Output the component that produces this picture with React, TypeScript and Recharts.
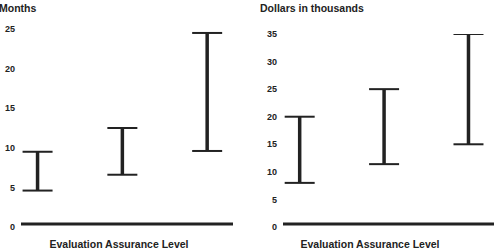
import React from 'react';
import { ComposedChart, Bar, XAxis, YAxis, ReferenceLine } from 'recharts';

// evaluation levels, plotted left to right
const levels = ['EAL 2', 'EAL 3', 'EAL 4'];
const levelPos = [1, 2, 3];

// schedule range (months)
const monthsLow = [4.6, 6.6, 9.6];
const monthsHigh = [9.5, 12.5, 24.5];
const monthTicks = [0, 5, 10, 15, 20, 25];

// cost range (dollars in thousands)
const costLow = [8, 11.4, 15];
const costHigh = [20, 25, 35];
const costTicks = [0, 5, 10, 15, 20, 25, 30, 35];

const INK = '#222';
const FONT = '"Liberation Sans", Arial, Helvetica, sans-serif';

const buildRows = (low: number[], high: number[]) =>
  levels.map((level, i) => ({ level, pos: levelPos[i], range: [low[i], high[i]] }));

const IBeam = (props: any) => {
  const { x, y, width, height } = props;
  const top = Math.min(y, y + height);
  const bottom = Math.max(y, y + height);
  const cx = x + width / 2;
  return (
    <g>
      <line x1={cx} x2={cx} y1={top} y2={bottom} stroke={INK} strokeWidth={3.5} />
      <line x1={x} x2={x + width} y1={top} y2={top} stroke={INK} strokeWidth={2} />
      <line x1={x} x2={x + width} y1={bottom} y2={bottom} stroke={INK} strokeWidth={2} />
    </g>
  );
};

const Baseline = (props: any) => {
  const { x1, x2, y1 } = props;
  return <line x1={x1} x2={x2} y1={y1 - 3} y2={y1 - 3} stroke={INK} strokeWidth={3} />;
};

const AxisTitle = (props: any) => {
  const { viewBox, shift } = props;
  if (!viewBox) return null;
  return (
    <text
      x={viewBox.x + viewBox.width / 2 + shift}
      y={viewBox.y + viewBox.height - 1}
      textAnchor="middle"
      fontFamily={FONT}
      fontWeight={700}
      fontSize={10.5}
      fill={INK}
    >
      Evaluation Assurance Level
    </text>
  );
};

interface PanelProps {
  rows: any[];
  ticks: number[];
  width: number;
  top: number;
  axisWidth: number;
  right: number;
  shift: number;
}

const Panel: React.FC<PanelProps> = ({ rows, ticks, width, top, axisWidth, right, shift }) => (
  <ComposedChart
    width={width}
    height={249}
    data={rows}
    margin={{ top, right, bottom: 0, left: 0 }}
  >
    <XAxis
      type="number"
      dataKey="pos"
      domain={[0.8, 3.3]}
      allowDataOverflow
      tick={false}
      tickLine={false}
      axisLine={false}
      height={22}
      label={<AxisTitle shift={shift} />}
    />
    <YAxis
      type="number"
      domain={[0, ticks[ticks.length - 1]]}
      allowDataOverflow
      ticks={ticks}
      width={axisWidth}
      axisLine={false}
      tickLine={false}
      tickSize={0}
      tickMargin={6}
      tick={{ fontSize: 9, fontWeight: 700, fill: INK, fontFamily: FONT }}
    />
    <ReferenceLine y={0} shape={<Baseline />} />
    <Bar dataKey="range" barSize={30} shape={<IBeam />} isAnimationActive={false} />
  </ComposedChart>
);

const titleStyle: React.CSSProperties = {
  position: 'absolute',
  top: 3,
  fontFamily: FONT,
  fontWeight: 700,
  fontSize: 10.5,
  lineHeight: 1,
  color: INK,
  whiteSpace: 'nowrap',
};

export default function App() {
  return (
    <div style={{ position: 'absolute', left: 0, top: 0, width: 495, height: 249, background: '#fff', overflow: 'hidden' }}>
      <div style={{ position: 'absolute', left: 0, top: 0 }}>
        <Panel rows={buildRows(monthsLow, monthsHigh)} ticks={monthTicks} width={245} top={29} axisWidth={21} right={12} shift={-8} />
      </div>
      <div style={{ position: 'absolute', left: 250, top: 0 }}>
        <Panel rows={buildRows(costLow, costHigh)} ticks={costTicks} width={245} top={34} axisWidth={33} right={1} shift={-18.5} />
      </div>
      <div style={{ ...titleStyle, left: -1 }}>Months</div>
      <div style={{ ...titleStyle, left: 260 }}>Dollars in thousands</div>
    </div>
  );
}
